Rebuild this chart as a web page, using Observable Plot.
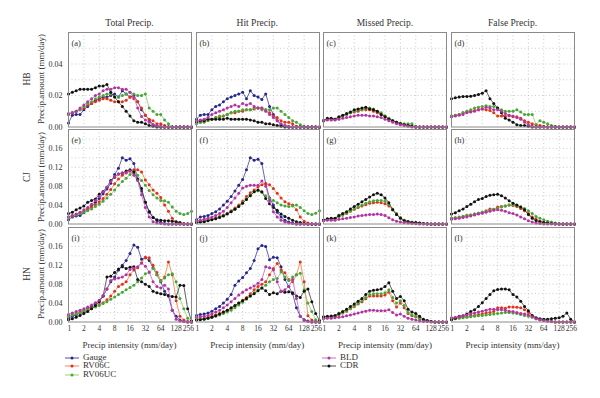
<!DOCTYPE html>
<html>
<head>
<meta charset="utf-8">
<script src="https://cdn.jsdelivr.net/npm/d3@7"></script>
<script src="https://cdn.jsdelivr.net/npm/@observablehq/plot@0.6"></script>
<style>
  html, body { margin: 0; padding: 0; background: #fff; }
  #chart { position: relative; width: 600px; height: 398px; font-family: "Liberation Serif", "DejaVu Serif", serif; color: #333; }
  .lbl { position: absolute; white-space: nowrap; line-height: 1; }
  .c { transform: translate(-50%, -50%); }
  .rot { transform: translate(-50%, -50%) rotate(-90deg); }
</style>
</head>
<body>
<div id="chart"></div>
<script>
// ---- bins (mm/day), 4 bins per octave ----
const xBins = [1,1.189,1.414,1.682,2,2.378,2.828,3.364,4,4.757,5.657,6.727,8,9.514,11.31,13.45,16,19.03,22.63,26.91,32,38.05,45.25,53.82,64,76.11,90.51,107.6,128,152.2,181.0,215.3,256];
const xTicks = [1,2,4,8,16,32,64,128,256];
const xGrid = [2,4,8,16,32,64,128];
const rowNames = ["HB","CJ","HN"];
const colNames = ["Total Precip.","Hit Precip.","Missed Precip.","False Precip."];
const panelLabels = ["(a)","(b)","(c)","(d)","(e)","(f)","(g)","(h)","(i)","(j)","(k)","(l)"];
const seriesNames = ["Gauge","RV06C","RV06UC","BLD","CDR"];
const yTicksRow = [[0,0.02,0.04],[0,0.04,0.08,0.12,0.16],[0,0.04,0.08,0.12,0.16]];
const yGridRow = [[0.01,0.02,0.03,0.04,0.05],[0.02,0.04,0.06,0.08,0.1,0.12,0.14,0.16,0.18],[0.02,0.04,0.06,0.08,0.1,0.12,0.14,0.16,0.18]];
const yMaxRow = [0.06,0.2,0.2];

// ---- HB ----
const HB_total = {
  Gauge:  [0.0025,0.0075,0.008,0.008,0.011,0.013,0.015,0.017,0.018,0.019,0.019,0.020,0.021,0.019,0.023,0.021,0.019,0.020,0.016,0.011,0.0075,0.0045,0.0015,0.0005,0,0,0,0,0,0,0,0,0],
  RV06C:  [0.008,0.009,0.010,0.011,0.012,0.014,0.015,0.016,0.017,0.018,0.018,0.017,0.016,0.016,0.016,0.017,0.019,0.018,0.016,0.012,0.0075,0.005,0.004,0.002,0.002,0.001,0,0,0,0,0,0,0],
  RV06UC: [0.008,0.009,0.010,0.011,0.013,0.015,0.016,0.018,0.019,0.020,0.021,0.021,0.019,0.019,0.020,0.021,0.022,0.021,0.020,0.020,0.021,0.012,0.010,0.008,0.008,0.0045,0.002,0,0,0,0,0,0],
  BLD:    [0.0085,0.009,0.010,0.012,0.014,0.016,0.018,0.020,0.021,0.023,0.024,0.024,0.025,0.025,0.024,0.024,0.022,0.019,0.012,0.0066,0.0045,0.003,0.0015,0.001,0.0005,0,0,0,0,0,0,0,0],
  CDR:    [0.021,0.022,0.023,0.024,0.024,0.024,0.024,0.025,0.026,0.026,0.027,0.022,0.019,0.016,0.013,0.010,0.007,0.004,0.003,0.003,0.002,0.001,0.0005,0,0,0,0,0,0,0,0,0,0]
};
const HB_hit = {
  Gauge:  [0.005,0.0075,0.008,0.008,0.011,0.013,0.014,0.016,0.018,0.019,0.020,0.021,0.022,0.018,0.023,0.020,0.019,0.0175,0.021,0.013,0.008,0.004,0.0015,0.0005,0,0,0,0,0,0,0,0,0],
  RV06C:  [0.003,0.003,0.004,0.005,0.005,0.006,0.006,0.007,0.008,0.009,0.009,0.010,0.010,0.011,0.011,0.0115,0.012,0.012,0.011,0.009,0.007,0.006,0.004,0.003,0.003,0.002,0.0005,0,0,0,0,0,0],
  RV06UC: [0.002,0.003,0.003,0.004,0.005,0.006,0.007,0.007,0.008,0.009,0.010,0.010,0.011,0.011,0.011,0.012,0.012,0.011,0.011,0.011,0.012,0.012,0.010,0.008,0.006,0.004,0.003,0.0015,0.0005,0,0,0,0],
  BLD:    [0.004,0.0045,0.005,0.006,0.008,0.009,0.010,0.011,0.012,0.013,0.014,0.013,0.015,0.014,0.015,0.013,0.012,0.012,0.010,0.008,0.006,0.004,0.002,0.001,0.0005,0,0,0,0,0,0,0,0],
  CDR:    [0.0035,0.004,0.004,0.005,0.005,0.005,0.005,0.005,0.0055,0.005,0.005,0.005,0.005,0.005,0.0045,0.004,0.003,0.003,0.002,0.002,0.0015,0.001,0.0005,0,0,0,0,0,0,0,0,0,0]
};
const HB_missed = {
  RV06C:  [0.004,0.005,0.005,0.005,0.006,0.007,0.008,0.009,0.0095,0.010,0.011,0.011,0.011,0.010,0.009,0.008,0.007,0.0055,0.004,0.003,0.002,0.0015,0.001,0.0005,0,0,0,0,0,0,0,0,0],
  RV06UC: [0.004,0.005,0.005,0.005,0.006,0.007,0.008,0.009,0.010,0.011,0.011,0.012,0.012,0.0115,0.010,0.009,0.007,0.0055,0.004,0.003,0.0025,0.002,0.002,0.002,0.0005,0,0,0,0,0,0,0,0],
  BLD:    [0.004,0.0045,0.0045,0.0045,0.005,0.0055,0.006,0.0065,0.007,0.0075,0.0075,0.0075,0.007,0.007,0.0065,0.006,0.005,0.004,0.003,0.002,0.0015,0.001,0.0005,0,0,0,0,0,0,0,0,0,0],
  CDR:    [0.004,0.0055,0.0055,0.005,0.0065,0.0075,0.0085,0.0095,0.011,0.0115,0.012,0.0125,0.0115,0.011,0.010,0.008,0.0065,0.005,0.004,0.003,0.002,0.0015,0.001,0.0005,0,0,0,0,0,0,0,0,0]
};
const HB_false = {
  RV06C:  [0.007,0.0075,0.008,0.009,0.0095,0.010,0.0105,0.011,0.0115,0.011,0.0105,0.009,0.007,0.007,0.0068,0.0072,0.0065,0.0065,0.0055,0.004,0.003,0.002,0.0015,0.001,0.0005,0,0,0,0,0,0,0,0],
  RV06UC: [0.007,0.0075,0.008,0.009,0.010,0.011,0.012,0.0125,0.013,0.0135,0.013,0.013,0.012,0.011,0.010,0.010,0.010,0.011,0.0095,0.008,0.008,0.008,0.0015,0.004,0.003,0.002,0.001,0.0005,0,0,0,0,0],
  BLD:    [0.0065,0.007,0.0075,0.008,0.009,0.0095,0.010,0.011,0.0115,0.0125,0.012,0.011,0.011,0.010,0.0085,0.0075,0.007,0.006,0.005,0.003,0.0015,0.0005,0,0,0,0,0,0,0,0,0,0,0],
  CDR:    [0.018,0.0185,0.019,0.0193,0.0194,0.0195,0.020,0.0207,0.0215,0.023,0.018,0.015,0.012,0.009,0.0055,0.0045,0.003,0.0015,0.001,0.001,0.0005,0,0,0,0,0,0,0,0,0,0,0,0]
};

// ---- CJ ----
const CJ_total = {
  Gauge:  [0.009,0.015,0.017,0.018,0.024,0.030,0.038,0.046,0.054,0.064,0.074,0.086,0.105,0.118,0.140,0.135,0.138,0.128,0.095,0.070,0.046,0.027,0.014,0.007,0.003,0.001,0,0,0,0,0,0,0],
  RV06C:  [0.015,0.017,0.020,0.023,0.027,0.031,0.036,0.041,0.047,0.054,0.063,0.073,0.085,0.095,0.103,0.108,0.112,0.115,0.115,0.110,0.093,0.083,0.072,0.065,0.056,0.040,0.027,0.012,0.004,0.002,0.001,0,0],
  RV06UC: [0.015,0.017,0.019,0.022,0.025,0.028,0.032,0.037,0.042,0.048,0.055,0.063,0.072,0.082,0.090,0.097,0.105,0.108,0.103,0.092,0.082,0.071,0.062,0.055,0.050,0.049,0.046,0.036,0.027,0.022,0.020,0.022,0.027],
  BLD:    [0.015,0.018,0.021,0.025,0.030,0.035,0.042,0.050,0.058,0.068,0.078,0.090,0.100,0.106,0.108,0.109,0.112,0.103,0.092,0.062,0.035,0.015,0.005,0.002,0.001,0,0,0,0,0,0,0,0],
  CDR:    [0.022,0.025,0.030,0.034,0.038,0.046,0.050,0.053,0.063,0.069,0.078,0.092,0.099,0.106,0.108,0.112,0.115,0.110,0.094,0.075,0.046,0.025,0.014,0.009,0.008,0.007,0.007,0.006,0.005,0.003,0,0,0]
};
const CJ_hit = {
  Gauge:  [0.009,0.015,0.016,0.018,0.022,0.026,0.032,0.040,0.048,0.058,0.070,0.082,0.094,0.115,0.140,0.135,0.137,0.128,0.085,0.055,0.040,0.025,0.015,0.008,0.004,0.002,0,0,0,0,0,0,0],
  RV06C:  [0.004,0.006,0.007,0.009,0.011,0.013,0.016,0.019,0.023,0.028,0.034,0.040,0.048,0.058,0.066,0.072,0.079,0.083,0.085,0.083,0.075,0.065,0.055,0.047,0.043,0.040,0.030,0.015,0.006,0.002,0,0,0],
  RV06UC: [0.004,0.005,0.006,0.008,0.010,0.012,0.015,0.018,0.022,0.027,0.032,0.038,0.045,0.053,0.062,0.068,0.071,0.067,0.060,0.054,0.050,0.045,0.040,0.038,0.037,0.038,0.040,0.035,0.028,0.022,0.020,0.023,0.028],
  BLD:    [0.006,0.008,0.010,0.012,0.015,0.018,0.022,0.027,0.035,0.045,0.055,0.065,0.076,0.080,0.082,0.082,0.082,0.091,0.080,0.050,0.026,0.015,0.008,0.004,0.002,0.001,0,0,0,0,0,0,0],
  CDR:    [0.003,0.004,0.005,0.007,0.009,0.011,0.014,0.017,0.021,0.026,0.031,0.037,0.044,0.052,0.060,0.068,0.072,0.068,0.054,0.043,0.035,0.029,0.021,0.016,0.012,0.008,0.005,0.003,0.001,0,0,0,0]
};
const CJ_missed = {
  RV06C:  [0.008,0.010,0.011,0.011,0.016,0.019,0.023,0.027,0.031,0.035,0.038,0.041,0.044,0.045,0.046,0.045,0.043,0.038,0.030,0.020,0.013,0.008,0.005,0.003,0.002,0.001,0.0005,0,0,0,0,0,0],
  RV06UC: [0.008,0.010,0.011,0.011,0.016,0.019,0.023,0.028,0.032,0.036,0.040,0.044,0.047,0.049,0.050,0.050,0.048,0.042,0.032,0.022,0.014,0.008,0.006,0.004,0.003,0.002,0.001,0.0005,0,0,0,0,0],
  BLD:    [0.007,0.008,0.008,0.008,0.010,0.011,0.012,0.014,0.015,0.017,0.018,0.019,0.020,0.020,0.021,0.020,0.018,0.013,0.009,0.006,0.004,0.003,0.002,0.001,0.0005,0,0,0,0,0,0,0,0],
  CDR:    [0.0085,0.011,0.012,0.012,0.018,0.022,0.026,0.032,0.037,0.042,0.047,0.052,0.057,0.062,0.065,0.062,0.055,0.045,0.030,0.020,0.012,0.007,0.005,0.003,0.003,0.002,0.001,0.0005,0,0,0,0,0]
};
const CJ_false = {
  RV06C:  [0.012,0.013,0.014,0.016,0.018,0.019,0.021,0.023,0.025,0.028,0.032,0.031,0.036,0.037,0.038,0.040,0.039,0.037,0.033,0.028,0.022,0.015,0.010,0.006,0.003,0.002,0.001,0,0,0,0,0,0],
  RV06UC: [0.012,0.013,0.015,0.016,0.018,0.019,0.021,0.023,0.025,0.027,0.029,0.031,0.033,0.036,0.038,0.040,0.040,0.039,0.036,0.033,0.028,0.022,0.016,0.012,0.009,0.006,0.004,0.002,0.001,0,0,0,0],
  BLD:    [0.010,0.011,0.012,0.014,0.015,0.017,0.019,0.021,0.023,0.025,0.027,0.029,0.030,0.029,0.027,0.024,0.022,0.019,0.015,0.011,0.007,0.004,0.002,0.001,0,0,0,0,0,0,0,0,0],
  CDR:    [0.021,0.024,0.028,0.032,0.037,0.042,0.047,0.052,0.054,0.058,0.061,0.062,0.063,0.060,0.055,0.049,0.044,0.040,0.036,0.030,0.020,0.012,0.007,0.005,0.003,0.002,0.001,0.0005,0,0,0,0,0]
};

// ---- HN ----
const HN_total = {
  Gauge:  [0.008,0.012,0.015,0.019,0.023,0.028,0.033,0.039,0.045,0.055,0.070,0.085,0.095,0.110,0.120,0.130,0.145,0.163,0.158,0.133,0.136,0.130,0.115,0.100,0.085,0.065,0.055,0.025,0.012,0.004,0.001,0,0],
  RV06C:  [0.013,0.015,0.018,0.021,0.024,0.027,0.030,0.033,0.037,0.041,0.047,0.055,0.065,0.075,0.080,0.085,0.100,0.110,0.115,0.125,0.137,0.136,0.120,0.105,0.088,0.095,0.127,0.100,0.045,0.012,0.004,0.001,0],
  RV06UC: [0.013,0.015,0.017,0.020,0.023,0.026,0.029,0.032,0.035,0.039,0.043,0.048,0.053,0.058,0.063,0.068,0.073,0.078,0.085,0.093,0.102,0.105,0.113,0.100,0.086,0.093,0.100,0.102,0.085,0.050,0.028,0.008,0.001],
  BLD:    [0.016,0.019,0.022,0.025,0.028,0.032,0.036,0.041,0.046,0.056,0.070,0.088,0.091,0.093,0.095,0.100,0.111,0.114,0.117,0.125,0.118,0.106,0.085,0.075,0.072,0.078,0.070,0.025,0.006,0.002,0.001,0,0],
  CDR:    [0.005,0.007,0.010,0.014,0.018,0.022,0.028,0.035,0.043,0.055,0.095,0.097,0.105,0.112,0.117,0.113,0.116,0.117,0.090,0.085,0.080,0.075,0.065,0.062,0.060,0.058,0.056,0.054,0.053,0.078,0.077,0.028,0.002]
};
const HN_hit = {
  Gauge:  [0.014,0.016,0.017,0.019,0.023,0.028,0.033,0.040,0.048,0.058,0.078,0.087,0.094,0.104,0.113,0.130,0.155,0.162,0.160,0.132,0.137,0.136,0.117,0.090,0.075,0.060,0.030,0.012,0.005,0.002,0,0,0],
  RV06C:  [0.006,0.007,0.008,0.010,0.012,0.015,0.018,0.021,0.025,0.029,0.034,0.040,0.046,0.052,0.060,0.068,0.075,0.080,0.085,0.100,0.113,0.124,0.110,0.104,0.090,0.085,0.100,0.127,0.085,0.013,0.004,0.001,0],
  RV06UC: [0.005,0.006,0.007,0.008,0.010,0.012,0.015,0.018,0.021,0.025,0.030,0.036,0.042,0.048,0.055,0.062,0.068,0.072,0.078,0.085,0.090,0.092,0.106,0.095,0.088,0.095,0.100,0.103,0.068,0.040,0.022,0.005,0],
  BLD:    [0.010,0.011,0.012,0.014,0.017,0.021,0.025,0.030,0.036,0.043,0.050,0.057,0.063,0.068,0.072,0.076,0.082,0.090,0.117,0.115,0.110,0.085,0.065,0.068,0.075,0.090,0.050,0.012,0.003,0.001,0,0,0],
  CDR:    [0.004,0.005,0.006,0.008,0.010,0.013,0.017,0.021,0.025,0.030,0.035,0.040,0.045,0.050,0.055,0.060,0.066,0.072,0.066,0.058,0.062,0.060,0.065,0.063,0.064,0.062,0.055,0.052,0.065,0.070,0.043,0.018,0.003]
};
const HN_missed = {
  RV06C:  [0.009,0.010,0.011,0.012,0.015,0.019,0.023,0.028,0.033,0.038,0.043,0.049,0.055,0.055,0.055,0.055,0.057,0.063,0.045,0.032,0.040,0.030,0.018,0.013,0.011,0.007,0.004,0.002,0.001,0,0,0,0],
  RV06UC: [0.009,0.010,0.011,0.012,0.016,0.020,0.024,0.029,0.034,0.039,0.045,0.052,0.058,0.060,0.060,0.060,0.062,0.068,0.052,0.040,0.045,0.035,0.020,0.015,0.012,0.008,0.004,0.002,0.001,0,0,0,0],
  BLD:    [0.007,0.008,0.008,0.009,0.010,0.011,0.013,0.015,0.017,0.019,0.021,0.023,0.025,0.025,0.024,0.024,0.024,0.026,0.020,0.015,0.017,0.012,0.008,0.006,0.004,0.002,0.001,0.001,0,0,0,0,0],
  CDR:    [0.011,0.012,0.0125,0.014,0.018,0.022,0.027,0.033,0.038,0.044,0.050,0.058,0.065,0.067,0.068,0.070,0.075,0.083,0.065,0.050,0.054,0.045,0.027,0.021,0.018,0.012,0.006,0.003,0.001,0,0,0,0]
};
const HN_false = {
  RV06C:  [0.007,0.008,0.009,0.010,0.011,0.013,0.014,0.016,0.017,0.019,0.020,0.022,0.030,0.030,0.029,0.032,0.032,0.031,0.030,0.026,0.020,0.013,0.008,0.005,0.003,0.002,0.001,0,0,0,0,0,0],
  RV06UC: [0.006,0.007,0.008,0.009,0.010,0.011,0.012,0.013,0.014,0.015,0.016,0.017,0.018,0.019,0.020,0.020,0.019,0.018,0.016,0.014,0.012,0.010,0.007,0.005,0.003,0.002,0.001,0,0,0,0,0,0],
  BLD:    [0.009,0.010,0.011,0.013,0.015,0.017,0.019,0.021,0.023,0.025,0.027,0.027,0.026,0.026,0.025,0.023,0.022,0.020,0.018,0.017,0.015,0.011,0.007,0.005,0.003,0.002,0.001,0,0,0,0,0,0],
  CDR:    [0.005,0.008,0.012,0.013,0.017,0.022,0.026,0.033,0.041,0.050,0.058,0.066,0.069,0.070,0.070,0.068,0.058,0.053,0.044,0.033,0.024,0.014,0.009,0.007,0.006,0.006,0.007,0.008,0.009,0.012,0.019,0.006,0]
};

const panels = [
  [HB_total, HB_hit, HB_missed, HB_false],
  [CJ_total, CJ_hit, CJ_missed, CJ_false],
  [HN_total, HN_hit, HN_missed, HN_false]
];

// ---- styling ----
const lineColor = {Gauge:"#3c3c9e", RV06C:"#f2783a", RV06UC:"#8ccc6a", BLD:"#c85cc2", CDR:"#3a3a3a"};
const dotColor  = {Gauge:"#26268a", RV06C:"#e2301c", RV06UC:"#47a53a", BLD:"#b2349f", CDR:"#111111"};
const drawOrder = ["Gauge","RV06C","RV06UC","CDR","BLD"];
const FONT = "Liberation Serif, DejaVu Serif, serif";

const colLeft = [68, 195.7, 323.4, 451.1];
const rowTop = [32, 129.3, 226.6];
const PW = 123, PH = 94.5;
const XTF = 7.5; // x tick font size

const chart = document.getElementById("chart");

function makePanel(r, c) {
  const sm = panels[r][c];
  const ml = c === 0 ? 40 : 1;
  const mb = r === 2 ? 20 : 1;
  const marks = [
    Plot.ruleY(yGridRow[r], {stroke: "#b4b4b4", strokeWidth: 0.7, strokeDasharray: "1,2.5"}),
    Plot.ruleX(xGrid, {stroke: "#b4b4b4", strokeWidth: 0.7, strokeDasharray: "1,2.5"})
  ];
  for (const s of drawOrder) {
    if (!sm[s]) continue;
    const data = xBins.map((x, i) => ({x, v: sm[s][i]}));
    marks.push(Plot.line(data, {x: "x", y: "v", stroke: lineColor[s], strokeWidth: 0.8}));
    marks.push(Plot.dot(data, {x: "x", y: "v", r: 1.5, fill: dotColor[s], stroke: "none"}));
  }
  marks.push(Plot.frame({stroke: "#8a8a8a", strokeWidth: 1}));
  marks.push(Plot.text([panelLabels[r * 4 + c]], {text: d => d, frameAnchor: "top-left", dx: 3, dy: 7, fontSize: 8.5, fill: "#333"}));
  if (r === 2) {
    // x tick labels (bottom row only); end labels nudged inward so neighbouring panels do not collide
    const mid = xTicks.slice(1, -1);
    marks.push(Plot.text(mid, {x: d => d, text: d => String(d), frameAnchor: "bottom", lineAnchor: "top", textAnchor: "middle", dy: 4, fontSize: XTF, fill: "#333"}));
    marks.push(Plot.text([xTicks[0]], {x: d => d, text: d => String(d), frameAnchor: "bottom", lineAnchor: "top", textAnchor: "start", dx: -1, dy: 4, fontSize: XTF, fill: "#333"}));
    marks.push(Plot.text([xTicks[xTicks.length - 1]], {x: d => d, text: d => String(d), frameAnchor: "bottom", lineAnchor: "top", textAnchor: "end", dx: 2.5, dy: 4, fontSize: XTF, fill: "#333"}));
  }
  const svg = Plot.plot({
    width: ml + PW + 1,
    height: 1 + PH + mb,
    marginLeft: ml, marginRight: 1, marginTop: 1, marginBottom: mb,
    x: {type: "log", base: 2, domain: [1, 256], axis: null},
    y: {domain: [0, yMaxRow[r]], axis: c === 0 ? "left" : null, ticks: yTicksRow[r],
        tickFormat: d => d.toFixed(2), tickSize: 0, tickPadding: 6, label: null},
    style: {fontFamily: FONT, fontSize: "8px", background: "transparent", color: "#333", overflow: "visible"},
    marks
  });
  svg.style.position = "absolute";
  svg.style.left = (colLeft[c] - ml) + "px";
  svg.style.top = (rowTop[r] - 1) + "px";
  svg.style.maxWidth = "none";
  chart.appendChild(svg);
}

for (let r = 0; r < 3; r++) for (let c = 0; c < 4; c++) makePanel(r, c);

function addLabel(text, x, y, cls, size) {
  const d = document.createElement("div");
  d.className = "lbl " + cls;
  d.textContent = text;
  d.style.left = x + "px";
  d.style.top = y + "px";
  d.style.fontSize = size + "px";
  chart.appendChild(d);
}

colNames.forEach((t, c) => addLabel(t, colLeft[c] + PW / 2, 24, "c", 9.5));
colNames.forEach((t, c) => addLabel("Precip intensity (mm/day)", colLeft[c] + PW / 2, 344.5, "c", 9));
rowNames.forEach((t, r) => {
  addLabel(t, 28, rowTop[r] + PH / 2, "rot", 9.5);
  addLabel("Precip.amount (mm/day)", 41, rowTop[r] + PH / 2, "rot", 9);
});

// ---- legend ----
const legendPos = [
  {s: "Gauge", x: 65, y: 357.5}, {s: "RV06C", x: 65, y: 366}, {s: "RV06UC", x: 65, y: 374.5},
  {s: "BLD", x: 322, y: 357.5}, {s: "CDR", x: 322, y: 366}
];
for (const p of legendPos) {
  const ns = "http://www.w3.org/2000/svg";
  const sw = document.createElementNS(ns, "svg");
  sw.setAttribute("width", 14); sw.setAttribute("height", 6);
  sw.style.position = "absolute"; sw.style.left = p.x + "px"; sw.style.top = (p.y - 3) + "px";
  const ln = document.createElementNS(ns, "line");
  ln.setAttribute("x1", 0); ln.setAttribute("x2", 14); ln.setAttribute("y1", 3); ln.setAttribute("y2", 3);
  ln.setAttribute("stroke", lineColor[p.s]); ln.setAttribute("stroke-width", 0.9);
  const ci = document.createElementNS(ns, "circle");
  ci.setAttribute("cx", 7); ci.setAttribute("cy", 3); ci.setAttribute("r", 1.5); ci.setAttribute("fill", dotColor[p.s]);
  sw.appendChild(ln); sw.appendChild(ci);
  chart.appendChild(sw);
  const t = document.createElement("div");
  t.className = "lbl";
  t.textContent = p.s;
  t.style.left = (p.x + 18) + "px";
  t.style.top = (p.y - 5) + "px";
  t.style.fontSize = "9px";
  chart.appendChild(t);
}
</script>
</body>
</html>
